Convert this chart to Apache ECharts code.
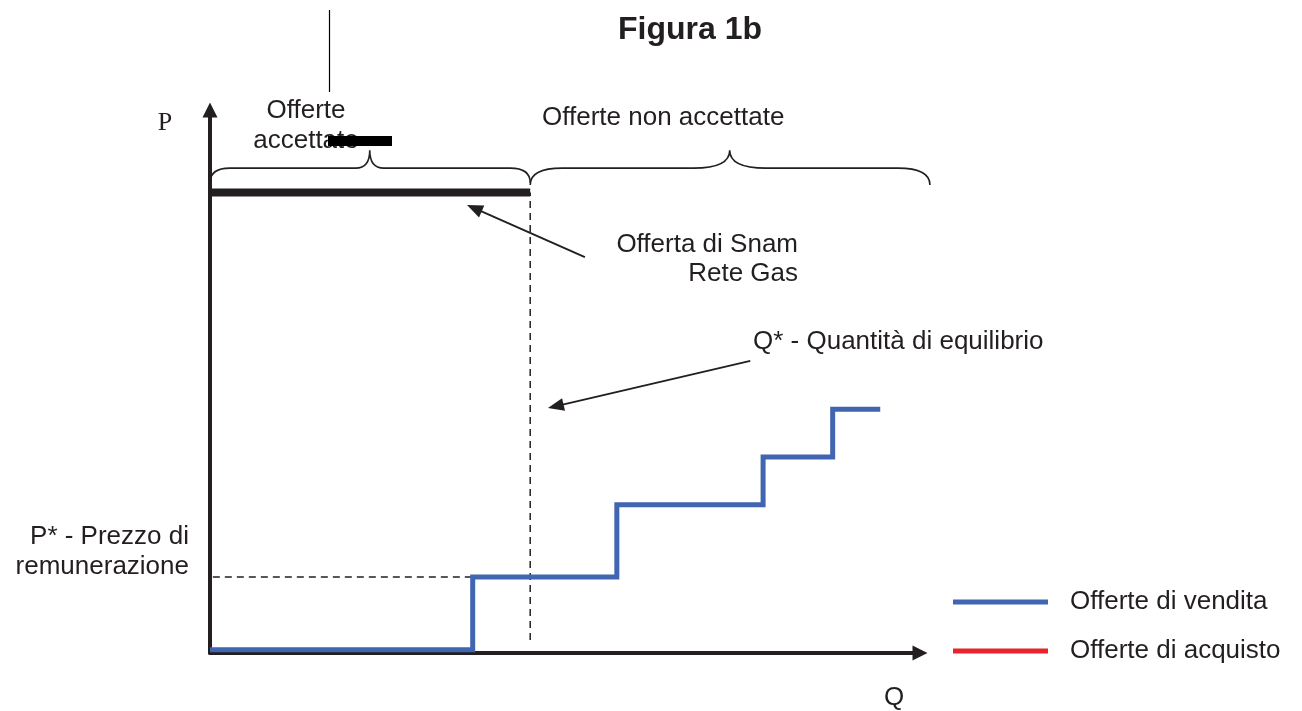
<!DOCTYPE html>
<html><head><meta charset="utf-8">
<script src="https://cdn.jsdelivr.net/npm/echarts@6/dist/echarts.min.js"></script>
<style>html,body{margin:0;padding:0;background:#fff}#c{width:1302px;height:711px}</style>
</head><body><div id="c"></div>
<script>
// ---- data (axis units: Q 0..100, P 0..100) ----
const titleText = 'Figura 1b';
const axisNames = ['P', 'Q'];
const legendNames = ['Offerte di vendita', 'Offerte di acquisto'];
// supply (sell) offers: step curve corner Q and P values
const sellQ = [0, 37.0, 57.3, 77.9, 87.7, 94.4];
const sellP = [0.6, 14.0, 27.3, 36.1, 44.9, 44.9];
// purchase offers (none drawn in this figure)
const buyQ = [];
const buyP = [];
// Snam Rete Gas offer
const snamQ = [0, 45.1];
const snamP = [84.8, 84.8];
// equilibrium
const qStar = 45.1;
const qStarRange = [2.4, 84.8];
const pStar = 14.0;
const pStarRange = [0.4, 37.0];
// braces: [startQ, endQ, tipQ, endP, lineP, tipP]
const braceAccepted = [0, 45.1, 22.5, 86.6, 89.3, 92.6];
const braceRejected = [45.1, 101.4, 73.2, 86.2, 89.3, 92.6];
// annotation arrows: [tailQ, tailP, tipQ, tipP]
const arrowSnam = [52.8, 72.9, 36.2, 82.5];
const arrowQStar = [76.1, 53.8, 47.6, 45.1];
const labels = {
  accepted: 'Offerte\naccettate',
  rejected: 'Offerte non accettate',
  snam: 'Offerta di Snam\nRete Gas',
  qStar: 'Q* - Quantità di equilibrio',
  pStar: 'P* - Prezzo di\nremunerazione'
};

const INK = '#231f20';
const FONT = '"Liberation Sans", Arial, sans-serif';
const zip = (a, b) => a.map((v, i) => [v, b[i]]);

const chart = echarts.init(document.getElementById('c'), null, {renderer: 'canvas'});

const braceRadii = [[20, 14], [32, 36]];

const option = {
  animation: false,
  backgroundColor: '#ffffff',
  grid: {left: 210, right: 382, top: 110, bottom: 58, containLabel: false},
  xAxis: {
    type: 'value', min: 0, max: 100,
    axisLine: {show: true, onZero: false, symbol: ['none', 'triangle'], symbolSize: [15, 15],
      lineStyle: {color: INK, width: 4}},
    axisTick: {show: false}, axisLabel: {show: false}, splitLine: {show: false}
  },
  yAxis: {
    type: 'value', min: 0, max: 100,
    axisLine: {show: true, onZero: false, symbol: ['none', 'triangle'], symbolSize: [15, 15],
      lineStyle: {color: INK, width: 4}},
    axisTick: {show: false}, axisLabel: {show: false}, splitLine: {show: false}
  },
  legend: {
    data: legendNames, orient: 'vertical', left: 948, top: 582,
    itemWidth: 95, itemHeight: 5, itemGap: 19, icon: 'rect', selectedMode: false,
    textStyle: {fontSize: 26, fontFamily: FONT, color: INK, lineHeight: 30, padding: [0, 0, 0, 17]}
  },
  series: [
    {
      name: 'snam', type: 'line', data: zip(snamQ, snamP), symbol: 'none', silent: true,
      lineStyle: {color: INK, width: 8, cap: 'butt'}, z: 3
    },
    {
      name: 'qstar', type: 'line', data: [[qStar, qStarRange[0]], [qStar, qStarRange[1]]], symbol: 'none', silent: true,
      lineStyle: {color: INK, width: 1.5, type: [7, 5]}, z: 2
    },
    {
      name: 'pstar', type: 'line', data: [[pStarRange[0], pStar], [pStarRange[1], pStar]], symbol: 'none', silent: true,
      lineStyle: {color: INK, width: 1.5, type: [7, 5]}, z: 2
    },
    {
      name: legendNames[0], type: 'line', step: 'end', data: zip(sellQ, sellP), symbol: 'none', silent: true,
      color: '#4166b1', lineStyle: {color: '#4166b1', width: 5, join: 'miter', cap: 'butt'}, z: 4
    },
    {
      name: legendNames[1], type: 'line', data: zip(buyQ, buyP), symbol: 'none', silent: true,
      color: '#e8232b', lineStyle: {color: '#e8232b', width: 5}
    },
    {
      name: 'braces', type: 'custom', silent: true, clip: false, z: 3,
      data: [braceAccepted, braceRejected],
      renderItem: (params, api) => {
        const a = api.coord([api.value(0), api.value(3)]);
        const b = api.coord([api.value(1), api.value(3)]);
        const m = api.coord([api.value(2), api.value(5)]);
        const yl = api.coord([0, api.value(4)])[1];
        const [re, rm] = braceRadii[params.dataIndex];
        const d = `M${a[0]} ${a[1]} Q${a[0]} ${yl} ${a[0] + re} ${yl} L${m[0] - rm} ${yl} Q${m[0]} ${yl} ${m[0]} ${m[1]} ` +
          `Q${m[0]} ${yl} ${m[0] + rm} ${yl} L${b[0] - re} ${yl} Q${b[0]} ${yl} ${b[0]} ${b[1]}`;
        return {type: 'path', shape: {pathData: d}, style: {fill: null, stroke: INK, lineWidth: 1.6}};
      }
    },
    {
      name: 'arrows', type: 'custom', silent: true, clip: false, z: 3,
      data: [arrowSnam, arrowQStar],
      renderItem: (params, api) => {
        const p0 = api.coord([api.value(0), api.value(1)]);
        const p1 = api.coord([api.value(2), api.value(3)]);
        const dx = p1[0] - p0[0], dy = p1[1] - p0[1];
        const len = Math.hypot(dx, dy), ux = dx / len, uy = dy / len;
        const hl = 16, hw = 6.5;
        const bx = p1[0] - ux * hl, by = p1[1] - uy * hl;
        return {type: 'group', children: [
          {type: 'line', shape: {x1: p0[0], y1: p0[1], x2: bx + ux * 2, y2: by + uy * 2}, style: {stroke: INK, lineWidth: 1.8}},
          {type: 'polygon', shape: {points: [[p1[0], p1[1]], [bx - uy * hw, by + ux * hw], [bx + uy * hw, by - ux * hw]]}, style: {fill: INK}}
        ]};
      }
    }
  ],
  graphic: [
    {type: 'text', x: 690, y: 30, style: {text: titleText, font: 'bold 32px ' + FONT, fill: INK, align: 'center', verticalAlign: 'middle'}},
    {type: 'text', x: 165, y: 123, style: {text: axisNames[0], font: '26px "Liberation Serif", "Times New Roman", serif', fill: INK, align: 'center', verticalAlign: 'middle'}},
    {type: 'text', x: 894, y: 698, style: {text: axisNames[1], font: '26px ' + FONT, fill: INK, align: 'center', verticalAlign: 'middle'}},
    {type: 'text', x: 306, y: 126, style: {text: labels.accepted, font: '26px ' + FONT, lineHeight: 30, fill: INK, align: 'center', verticalAlign: 'middle'}},
    {type: 'text', x: 542, y: 118, style: {text: labels.rejected, font: '26px ' + FONT, fill: INK, align: 'left', verticalAlign: 'middle'}},
    {type: 'text', x: 798, y: 259, style: {text: labels.snam, font: '26px ' + FONT, lineHeight: 29, fill: INK, align: 'right', verticalAlign: 'middle'}},
    {type: 'text', x: 753, y: 342, style: {text: labels.qStar, font: '26px ' + FONT, fill: INK, align: 'left', verticalAlign: 'middle'}},
    {type: 'text', x: 189, y: 552, style: {text: labels.pStar, font: '26px ' + FONT, lineHeight: 30, fill: INK, align: 'right', verticalAlign: 'middle'}},
    // stray marks present in the original figure
    {type: 'line', shape: {x1: 329.5, y1: 10, x2: 329.5, y2: 92}, style: {stroke: '#000', lineWidth: 1.2}},
    {type: 'rect', shape: {x: 328, y: 136, width: 64, height: 10}, style: {fill: '#000'}, z: 100}
  ]
};
chart.setOption(option);
</script>
</body></html>
